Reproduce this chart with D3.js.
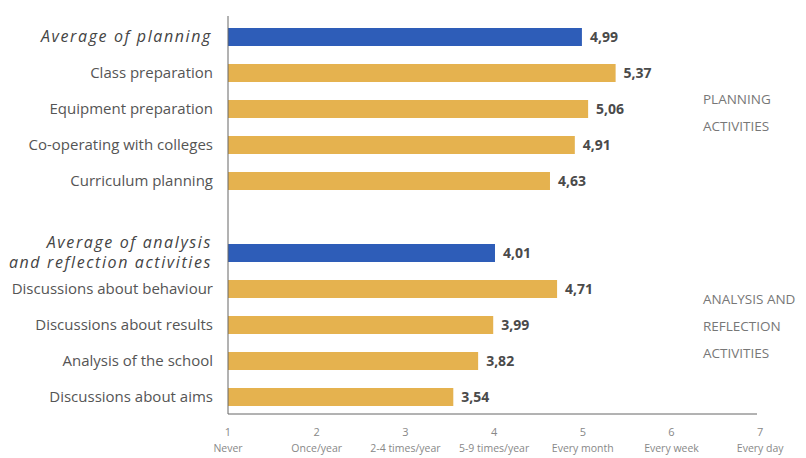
<!DOCTYPE html>
<html>
<head>
<meta charset="utf-8">
<script src="https://cdn.jsdelivr.net/npm/d3@7"></script>
<style>
  body { margin: 0; background: #fff; }
  svg { display: block; }
</style>
</head>
<body>
<div id="chart"></div>
<script>
// data
var categories = ["Average of planning", "Class preparation", "Equipment preparation", "Co-operating with colleges", "Curriculum planning",
                  "gap",
                  "Average of analysis|and reflection activities", "Discussions about behaviour", "Discussions about results", "Analysis of the school", "Discussions about aims"]
var values = [4.99, 5.37, 5.06, 4.91, 4.63, null, 4.01, 4.71, 3.99, 3.82, 3.54]
var isAverage = [true, false, false, false, false, false, true, false, false, false, false]
var tickValues = [1, 2, 3, 4, 5, 6, 7]
var tickLabels = ["Never", "Once/year", "2-4 times/year", "5-9 times/year", "Every month", "Every week", "Every day"]
var groupLabels = [["PLANNING", "ACTIVITIES"], ["ANALYSIS AND", "REFLECTION", "ACTIVITIES"]]

var width = 806, height = 458
var margin = {top: 19, left: 228, bottom: 45}

var svg = d3.select("#chart").append("svg")
    .attr("width", width)
    .attr("height", height)

var x = d3.scaleLinear().domain([1, 7]).range([margin.left, margin.left + 6 * 88.7])
var y = d3.scaleBand().domain(categories).range([margin.top, 415]).paddingInner(0.5).paddingOuter(0.25)

var font = "'Open Sans', sans-serif"

// bars
var rows = categories.map(function(c, i) { return {cat: c, v: values[i], avg: isAverage[i]} })
    .filter(function(d) { return d.v !== null })

svg.selectAll("rect.bar")
    .data(rows)
    .enter()
    .append("rect")
    .attr("class", "bar")
    .attr("x", x(1))
    .attr("y", function(d) { return y(d.cat) })
    .attr("width", function(d) { return x(d.v) - x(1) })
    .attr("height", y.bandwidth())
    .attr("fill", function(d) { return d.avg ? "#2e5db8" : "#e5b24f" })

// value labels
svg.selectAll("text.val")
    .data(rows)
    .enter()
    .append("text")
    .attr("class", "val")
    .attr("x", function(d) { return x(d.v) + 8 })
    .attr("y", function(d) { return y(d.cat) + y.bandwidth() / 2 + 5 })
    .text(function(d) { return d3.format(".2f")(d.v).replace(".", ",") })
    .attr("font-family", font)
    .attr("font-weight", "bold")
    .attr("font-size", "14px")
    .attr("fill", "#4a4a4a")

// category labels
var catText = svg.selectAll("text.cat")
    .data(rows)
    .enter()
    .append("text")
    .attr("class", "cat")
    .attr("text-anchor", "end")
    .attr("font-family", font)
    .attr("font-style", function(d) { return d.avg ? "italic" : "normal" })
    .attr("font-size", function(d) { return d.avg ? "16px" : "15px" })
    .attr("letter-spacing", function(d) { return d.avg ? "1.6px" : "0px" })
    .attr("fill", function(d) { return d.avg ? "#444" : "#555" })

catText.each(function(d) {
    var lines = d.cat.split("|")
    var cy = y(d.cat) + y.bandwidth() / 2 + 5
    var start = cy - (lines.length - 1) * 20 / 2
    var t = d3.select(this)
    lines.forEach(function(l, i) {
        t.append("tspan").attr("x", d.avg ? 212 : 213).attr("y", start + i * 20).text(l)
    })
})

// axes lines
svg.append("line")
    .attr("x1", x(1)).attr("x2", x(1))
    .attr("y1", 16).attr("y2", 414)
    .attr("stroke", "#666").attr("stroke-width", 1)
svg.append("line")
    .attr("x1", x(1)).attr("x2", 757)
    .attr("y1", 414).attr("y2", 414)
    .attr("stroke", "#666").attr("stroke-width", 1)

// ticks
svg.selectAll("text.tick")
    .data(tickValues)
    .enter()
    .append("text")
    .attr("x", function(d) { return x(d) })
    .attr("y", 436)
    .attr("text-anchor", "middle")
    .attr("font-family", font)
    .attr("font-size", "11px")
    .attr("fill", "#888")
    .text(function(d) { return d })

svg.selectAll("text.ticklab")
    .data(tickValues)
    .enter()
    .append("text")
    .attr("x", function(d) { return x(d) })
    .attr("y", 452)
    .attr("text-anchor", "middle")
    .attr("font-family", font)
    .attr("font-size", "10.5px")
    .attr("fill", "#888")
    .text(function(d, i) { return tickLabels[i] })

// group labels on the right
var groupY = [104, 304]
groupLabels.forEach(function(lines, g) {
    svg.append("g").selectAll("text")
        .data(lines)
        .enter()
        .append("text")
        .attr("x", 703)
        .attr("y", function(d, i) { return groupY[g] + i * 27 })
        .attr("font-family", font)
        .attr("font-size", "13.5px")
        .attr("fill", "#777")
        .text(function(d) { return d })
})
</script>
</body>
</html>
